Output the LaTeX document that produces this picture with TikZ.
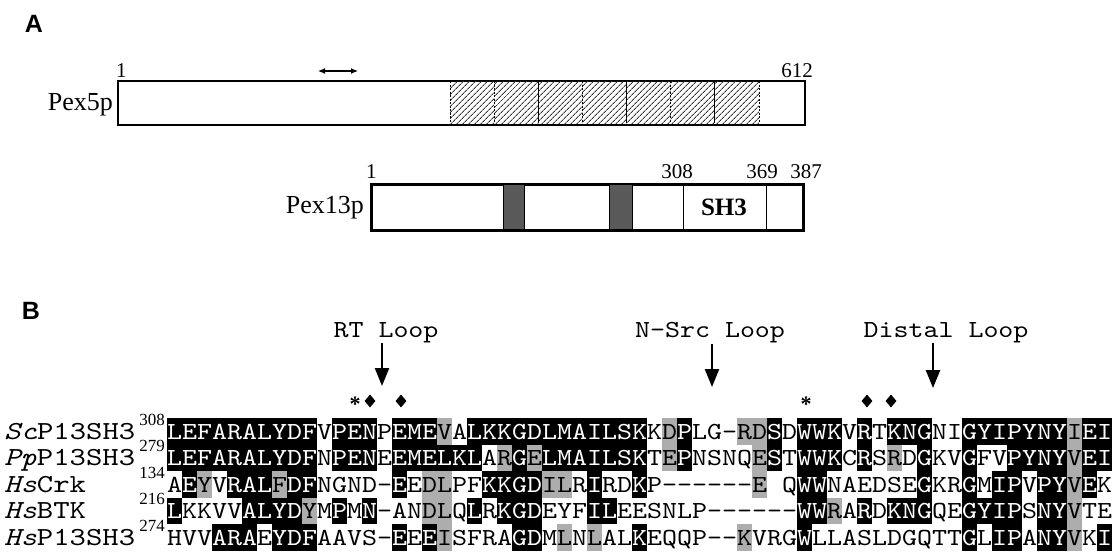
\documentclass[tikz,border=0pt]{standalone}
\usepackage{fontspec}
\setmainfont{Liberation Serif}
\setsansfont{Liberation Sans}
\newfontfamily\seqfont{lmmono10-regular.otf}[FakeStretch=1.166,ItalicFont=lmmono10-italic.otf]
\newfontfamily\spfont{lmmono10-regular.otf}[FakeStretch=1.2,ItalicFont=lmmono10-italic.otf]
\usetikzlibrary{positioning,arrows.meta,shapes.geometric,patterns.meta}
\newcommand{\wt}[1]{\textcolor{white}{#1}}
\newcommand{\sz}[1]{\fontsize{#1}{#1}\selectfont}

\begin{document}
\begin{tikzpicture}[
  x=1pt,y=-1pt,
  panel/.style={font=\sffamily\bfseries\sz{25},inner sep=0},
  num/.style={font=\sz{21},inner sep=0},
  prot/.style={font=\sz{26},inner sep=0,anchor=base east},
  bar/.style={draw,line width=1.8pt,fill=white,inner sep=0,anchor=north west},
  tm/.style={fill=black!65,draw=black,line width=0.6pt},
  hatch/.style={pattern={Lines[angle=45,distance=4pt,line width=0.9pt]},pattern color=black!80},
  seq/.style={font=\seqfont\sz{24.5},inner sep=0,anchor=base west},
  spc/.style={font=\spfont\sz{26},inner sep=0,anchor=base west},
  first/.style={font=\sz{17},inner sep=0,anchor=north east},
  looplbl/.style={font=\seqfont\sz{24.5},inner sep=0},
  downarr/.style={-{Triangle[length=18pt,width=14pt]},line width=2.4pt},
  dia/.style={diamond,fill=black,inner sep=0,minimum width=11pt,minimum height=13pt},
  ast/.style={font=\bfseries\sz{22},inner sep=0},
  blk/.style={fill=black},
  gry/.style={fill=black!32},
]
\useasboundingbox (0,0) rectangle (1112,554);

% panel A
\node[panel] (pa) at (34,24) {A};
\node[bar,minimum width=687,minimum height=44] (pex5) at (117,80) {};
\foreach \i in {0,...,6}
  \fill[hatch] ({450+44.14*\i},81) rectangle ({450+44.14*(\i+1)},123);
\foreach \k in {0,1,3,5,7}
  \draw[line width=0.8pt,dash pattern=on 2pt off 1.5pt] ({450+44.14*\k},81) -- ({450+44.14*\k},123);
\foreach \k in {2,4,6}
  \draw[line width=0.8pt] ({450+44.14*\k},81) -- ({450+44.14*\k},123);
\node[prot] (l5) at (113,110) {Pex5p};
\node[num,anchor=base west] (n5a) at (116,77) {1};
\node[num,anchor=base] (n5b) at (797,77) {612};
\coordinate (hl) at (318,71);
\coordinate (hr) at (358,71);
\draw[{Latex[length=7pt,width=6pt]}-{Latex[length=7pt,width=6pt]},line width=1.2pt] (hl) -- (hr);

\node[bar,minimum width=431,minimum height=45] (pex13) at (371,184) {};
\fill[tm] (503,184) rectangle (524,229);
\fill[tm] (609,184) rectangle (632,229);
\draw[line width=1pt] (683,184) -- (683,229);
\draw[line width=1pt] (766,184) -- (766,229);
\draw[line width=1.8pt] (pex13.north west) rectangle (pex13.south east);
\node[prot] (l13) at (364,213) {Pex13p};
\node[num,anchor=base west] (n13a) at (366,178) {1};
\node[num,anchor=base] (n13b) at (677,178) {308};
\node[num,anchor=base] (n13c) at (762,178) {369};
\node[num,anchor=base] (n13d) at (806,178) {387};
\node[font=\bfseries\sz{25},inner sep=0,anchor=base] (sh3) at (724,215) {SH3};

% panel B
\node[panel] (pb) at (31,311) {B};
\node[looplbl] (rt) at (386,333) {RT Loop};
\node[looplbl] (nsrc) at (710,333) {N{-}Src Loop};
\node[looplbl] (dist) at (946,333) {Distal Loop};
\coordinate (rtend) at (382,386);
\coordinate (nsrcend) at (712,387);
\coordinate (distend) at (933,388);
\draw[downarr] (rt.south -| rtend) -- (rtend);
\draw[downarr] (nsrc.south -| nsrcend) -- (nsrcend);
\draw[downarr] (dist.south -| distend) -- (distend);

\node[ast] (s1) at (355,404) {*};
\node[dia] (d1) at (370,401) {};
\node[dia] (d2) at (401,401) {};
\node[ast] (s2) at (806,404) {*};
\node[dia] (d3) at (867,401) {};
\node[dia] (d4) at (891,401) {};

% shading, row/from/to
\foreach \r/\a/\b in {1/19/19,1/34/34,1/39/40,1/61/61,
    2/23/23,2/25/25,2/34/34,2/40/40,2/49/49,2/61/61,
    3/3/3,3/8/8,3/18/19,3/26/27,3/40/40,3/61/61,
    4/10/10,4/18/19,4/45/45,4/61/61,
    5/19/19,5/27/27,5/29/29,5/39/39,5/61/61}
  \fill[gry] ({152+15*\a},{391.5+26.5*\r}) rectangle ({167+15*\b},{418+26.5*\r});
\foreach \r/\a/\b in {1/1/10,1/12/14,1/16/18,1/21/32,1/35/35,1/41/41,1/43/45,1/47/47,1/49/51,1/54/60,1/62/63,
    2/1/10,2/12/14,2/16/21,2/24/24,2/26/32,2/35/35,2/41/41,2/43/45,2/47/47,2/51/51,2/54/54,2/57/60,2/62/63,
    3/2/2,3/5/7,3/9/10,3/16/16,3/22/25,3/29/29,3/32/32,3/43/44,3/51/51,3/54/54,3/56/57,3/59/60,3/62/62,
    4/1/1,4/6/9,4/12/12,4/14/14,4/21/21,4/23/25,4/29/30,4/43/44,4/47/47,4/49/51,4/54/57,4/59/60,
    5/4/6,5/8/10,5/16/16,5/18/18,5/24/25,5/32/32,5/43/43,5/54/54,5/56/57,5/59/60,5/63/63}
  \fill[blk] ({152+15*\a},{391.5+26.5*\r}) rectangle ({167+15*\b},{418+26.5*\r});

\foreach \r/\sp/\st in {1/{\textit{Sc}P13SH3}/308,2/{\textit{Pp}P13SH3}/279,
    3/{\textit{Hs}Crk}/134,4/{\textit{Hs}BTK}/216,5/{\textit{Hs}P13SH3}/274} {
  \node[spc] (sp\r) at (4,{412.5+26.5*\r}) {\sp};
  \node[first] (st\r) at (165,{387.5+26.5*\r}) {\st};
}

\node[seq] (seq1) at (167,439) {\wt{LEFARALYDF}V\wt{PEN}P\wt{EME}VA\wt{LKKGDLMAILSK}KD\wt{P}LG{-}RD\wt{S}D\wt{WWK}V\wt{R}T\wt{KNG}NI\wt{GYIPYNY}I\wt{EI}};
\node[seq] (seq2) at (167,465.5) {\wt{LEFARALYDF}N\wt{PEN}E\wt{EMELKL}AR\wt{G}E\wt{LMAILSK}TE\wt{P}NSNQE\wt{S}T\wt{WWK}C\wt{R}SRD\wt{G}KV\wt{G}FV\wt{PYNY}V\wt{EI}};
\node[seq] (seq3) at (167,492) {A\wt{E}YV\wt{RAL}F\wt{DF}NGND{-}\wt{E}EDLPF\wt{KKGD}ILR\wt{I}RD\wt{K}P{-}{-}{-}{-}{-}{-}E Q\wt{WW}NAEDSE\wt{G}KR\wt{G}M\wt{IP}V\wt{PY}V\wt{E}K};
\node[seq] (seq4) at (167,518.5) {\wt{L}KKVV\wt{ALYD}YM\wt{P}M\wt{N}{-}ANDLQ\wt{L}R\wt{KGD}EYF\wt{IL}EESNLP{-}{-}{-}{-}{-}{-}\wt{WW}RA\wt{R}D\wt{KNG}QE\wt{GYIP}S\wt{NY}VTE};
\node[seq] (seq5) at (167,545) {HVV\wt{ARA}E\wt{YDF}AAVS{-}\wt{E}E\wt{E}ISFRA\wt{GD}MLNLAL\wt{K}EQQP{-}{-}KVRG\wt{W}LLASLDGQTT\wt{G}L\wt{IP}A\wt{NY}VK\wt{I}};
\end{tikzpicture}
\end{document}
